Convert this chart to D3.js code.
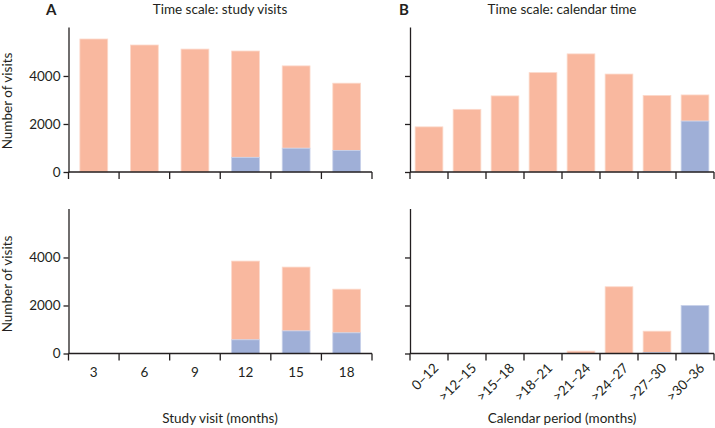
<!DOCTYPE html>
<html><head><meta charset="utf-8">
<script src="https://cdn.jsdelivr.net/npm/d3@7"></script>
<style>body{margin:0;background:#fff}svg{display:block}text{font-family:Lato,"Open Sans",sans-serif;fill:#231F20}</style>
</head><body><svg id="c" width="715" height="428"></svg>
<script>
// Data
const visitCats = ["3","6","9","12","15","18"];
const periodCats = ["0–12",">12–15",">15–18",">18–21",">21–24",">24–27",">27–30",">30–36"];
// Panel A (study visits): top row / bottom row, blue = lower segment, pink = upper segment
const aTopBlue = [0,0,0,610,990,900];
const aTopPink = [5540,5290,5120,4430,3430,2800];
const aBotBlue = [0,0,0,570,940,860];
const aBotPink = [0,0,0,3280,2660,1820];
// Panel B (calendar time)
const bTopBlue = [0,0,0,0,0,0,20,2120];
const bTopPink = [1880,2610,3170,4140,4920,4080,3170,1090];
const bBotBlue = [0,0,0,0,0,0,40,2000];
const bBotPink = [0,0,0,0,100,2780,890,0];
const yTicks = [0,2000,4000];

const svg = d3.select("#c");
const PINK="#F9B89F", BLUE="#9FAFD7";
const INK="#231F20";

function panel(opts){
  const {cats,blue,pink,x0,x1,base,top,pIn,showY,rotate,showX}=opts;
  const x=d3.scaleBand().domain(cats).range([x0,x1]).paddingInner(pIn).paddingOuter(pIn/2);
  const y=d3.scaleLinear().domain([0,6040]).range([base,top]);
  const g=svg.append("g");
  const data=cats.map((c,i)=>({c,b:blue[i],p:pink[i]}));
  g.selectAll("rect.p").data(data).enter().append("rect")
    .attr("x",d=>x(d.c)).attr("width",x.bandwidth())
    .attr("y",d=>y(d.b+d.p)).attr("height",d=>y(d.b)-y(d.b+d.p))
    .attr("fill",PINK).attr("stroke",d=>d.p>0?"#FCD9CB":"none").attr("stroke-width",0.8);
  g.selectAll("rect.b").data(data).enter().append("rect")
    .attr("x",d=>x(d.c)).attr("width",x.bandwidth())
    .attr("y",d=>y(d.b)).attr("height",d=>y(0)-y(d.b))
    .attr("fill",BLUE).attr("stroke",d=>d.b>0?"#C9D2EA":"none").attr("stroke-width",0.8);
  // y axis
  const ya=d3.axisLeft(y).tickValues(yTicks).tickSize(5).tickPadding(3).tickSizeOuter(0)
    .tickFormat(showY?d3.format("d"):()=> "");
  const yg=g.append("g").attr("transform",`translate(${x0},0)`).call(ya);
  yg.select(".domain").attr("stroke",INK).attr("stroke-width",1.3);
  yg.selectAll(".tick line").attr("stroke",INK).attr("stroke-width",1.3);
  yg.selectAll("text").style("font-size","13.5px").attr("fill",INK);
  // x axis: boundary ticks
  const step=x.step();
  const bounds=cats.map(c=>x(c)-step*pIn/2).concat([x1]);
  g.append("line").attr("x1",x0).attr("x2",x1).attr("y1",base).attr("y2",base).attr("stroke",INK).attr("stroke-width",1.3);
  g.selectAll("line.t").data(bounds).enter().append("line")
    .attr("x1",d=>d).attr("x2",d=>d).attr("y1",base).attr("y2",base+7).attr("stroke",INK).attr("stroke-width",1.3);
  if(showX){
    if(!rotate){
      g.selectAll("text.xl").data(cats).enter().append("text")
        .attr("x",d=>x(d)+x.bandwidth()/2).attr("y",base+23).attr("text-anchor","middle")
        .style("font-size","13.5px").text(d=>d);
    } else {
      g.selectAll("text.xl").data(cats).enter().append("text")
        .attr("transform",d=>`translate(${x(d)+x.bandwidth()/2+7},${base+12}) rotate(-45)`)
        .attr("text-anchor","end").attr("dy","0.35em")
        .style("font-size","13.5px").text(d=>d);
    }
  }
  return g;
}

panel({cats:visitCats,blue:aTopBlue,pink:aTopPink,x0:68.5,x1:372,base:172,top:27,pIn:0.45,showY:true});
panel({cats:visitCats,blue:aBotBlue,pink:aBotPink,x0:68.5,x1:372,base:353.5,top:208.5,pIn:0.45,showY:true,showX:true});
panel({cats:periodCats,blue:bTopBlue,pink:bTopPink,x0:410,x1:714,base:172,top:27,pIn:0.27,showY:false});
panel({cats:periodCats,blue:bBotBlue,pink:bBotPink,x0:410,x1:714,base:353.5,top:208.5,pIn:0.27,showY:false,showX:true,rotate:true});

// titles & labels
svg.append("text").attr("x",46).attr("y",15).style("font-size","15px").style("font-weight","bold").text("A");
svg.append("text").attr("x",399).attr("y",15).style("font-size","15px").style("font-weight","bold").text("B");
svg.append("text").attr("x",220).attr("y",14).attr("text-anchor","middle").style("font-size","13.5px").text("Time scale: study visits");
svg.append("text").attr("x",562).attr("y",14).attr("text-anchor","middle").style("font-size","13.5px").text("Time scale: calendar time");
svg.append("text").attr("transform","translate(12,101) rotate(-90)").attr("text-anchor","middle").style("font-size","13.5px").text("Number of visits");
svg.append("text").attr("transform","translate(12,284) rotate(-90)").attr("text-anchor","middle").style("font-size","13.5px").text("Number of visits");
svg.append("text").attr("x",220).attr("y",423).attr("text-anchor","middle").style("font-size","13.5px").text("Study visit (months)");
svg.append("text").attr("x",562).attr("y",423).attr("text-anchor","middle").style("font-size","13.5px").text("Calendar period (months)");
</script></body></html>
